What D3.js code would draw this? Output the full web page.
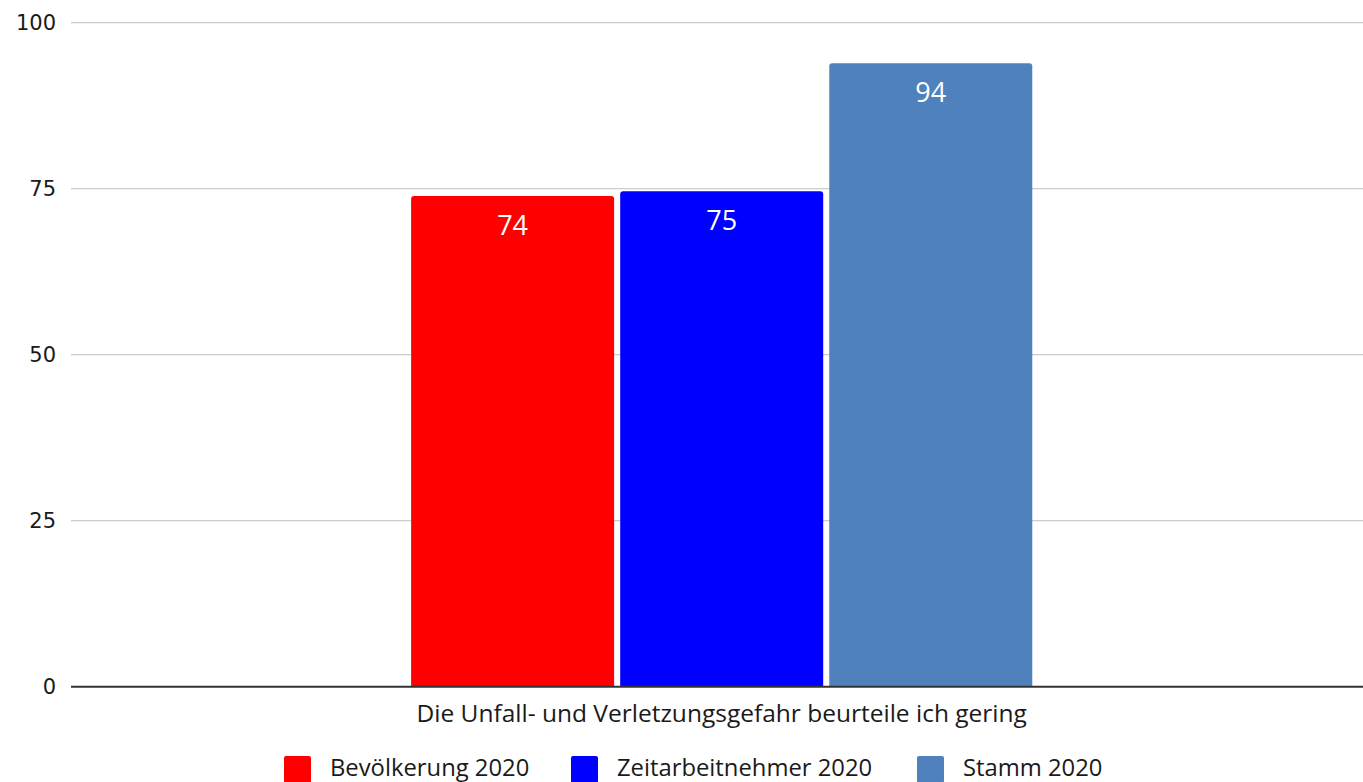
<!DOCTYPE html>
<html>
<head>
<meta charset="utf-8">
<script src="https://cdn.jsdelivr.net/npm/d3@7"></script>
<style>
  body { margin: 0; background: #fff; }
  svg { display: block; }
</style>
</head>
<body>
<div id="chart"></div>
<script>
// data
var categories = ["Die Unfall- und Verletzungsgefahr beurteile ich gering"];
var seriesNames = ["Bevölkerung 2020", "Zeitarbeitnehmer 2020", "Stamm 2020"];
var seriesValues = [73.9, 74.6, 93.9];
var seriesColors = ["#ff0000", "#0000ff", "#4f81bd"];
var yTicks = [0, 25, 50, 75, 100];

var W = 1363, H = 782;
var margin = {top: 22.7, right: 0, bottom: 95.3, left: 71},
    width = W - margin.left - margin.right,
    height = H - margin.top - margin.bottom;

var svg = d3.select("#chart").append("svg")
    .attr("width", W)
    .attr("height", H)
  .append("g")
    .attr("transform", "translate(" + margin.left + "," + margin.top + ")");

var y = d3.scaleLinear().domain([0, 100]).range([height, 0]);
var x0 = d3.scaleBand().domain(categories).range([0, width])
    .paddingInner(0).paddingOuter(0.54).align(0.507);
var x1 = d3.scaleBand().domain(seriesNames).range([0, x0.bandwidth()]).paddingInner(0.029).paddingOuter(0);

// grid lines
svg.append("g")
  .selectAll("line")
  .data(yTicks.filter(function(d) { return d > 0; }))
  .enter().append("line")
    .attr("x1", 0).attr("x2", width)
    .attr("y1", function(d) { return y(d); })
    .attr("y2", function(d) { return y(d); })
    .attr("stroke", "#cccccc")
    .attr("stroke-width", 1.3);

// y axis labels
var yAxis = svg.append("g")
  .call(d3.axisLeft(y).tickValues(yTicks).tickSize(0).tickPadding(15));
yAxis.select(".domain").remove();
yAxis.selectAll("text")
  .attr("font-family", "DejaVu Sans, sans-serif")
  .attr("font-size", 21)
  .attr("fill", "#1a1a1a");

// rounded-top bar path
function barPath(x, yTop, w, h, r) {
  return "M" + x + "," + (yTop + h) +
    "V" + (yTop + r) +
    "Q" + x + "," + yTop + " " + (x + r) + "," + yTop +
    "H" + (x + w - r) +
    "Q" + (x + w) + "," + yTop + " " + (x + w) + "," + (yTop + r) +
    "V" + (yTop + h) + "Z";
}

var group = svg.append("g")
  .attr("transform", "translate(" + x0(categories[0]) + ",0)");

group.selectAll("path")
  .data(seriesValues)
  .enter().append("path")
    .attr("d", function(d, i) {
      return barPath(x1(seriesNames[i]), y(d), x1.bandwidth(), height - y(d), 3);
    })
    .attr("fill", function(d, i) { return seriesColors[i]; });

group.selectAll("text.val")
  .data(seriesValues)
  .enter().append("text")
    .attr("class", "val")
    .attr("x", function(d, i) { return x1(seriesNames[i]) + x1.bandwidth() / 2; })
    .attr("y", function(d) { return y(d) + 39; })
    .attr("text-anchor", "middle")
    .attr("font-family", "Open Sans, sans-serif")
    .attr("font-size", 27)
    .attr("fill", "#ffffff")
    .text(function(d) { return Math.round(d); });

// baseline
svg.append("line")
  .attr("x1", 0).attr("x2", width)
  .attr("y1", height).attr("y2", height)
  .attr("stroke", "#333333")
  .attr("stroke-width", 2);

// category label
svg.append("text")
  .attr("x", x0(categories[0]) + x0.bandwidth() / 2)
  .attr("y", height + 35)
  .attr("text-anchor", "middle")
  .attr("font-family", "Open Sans, sans-serif")
  .attr("font-size", 24.5)
  .attr("fill", "#1a1a1a")
  .text(categories[0]);

// legend
var legendX = [284, 571, 917];
var legend = d3.select("svg").append("g");
var item = legend.selectAll("g")
  .data(seriesNames)
  .enter().append("g")
    .attr("transform", function(d, i) { return "translate(" + legendX[i] + "," + 756 + ")"; });
item.append("rect")
  .attr("width", 27).attr("height", 27)
  .attr("rx", 2)
  .attr("fill", function(d, i) { return seriesColors[i]; });
item.append("text")
  .attr("x", 46)
  .attr("y", 19.5)
  .attr("font-family", "Open Sans, sans-serif")
  .attr("font-size", 23.8)
  .attr("fill", "#1a1a1a")
  .text(function(d) { return d; });
</script>
</body>
</html>
